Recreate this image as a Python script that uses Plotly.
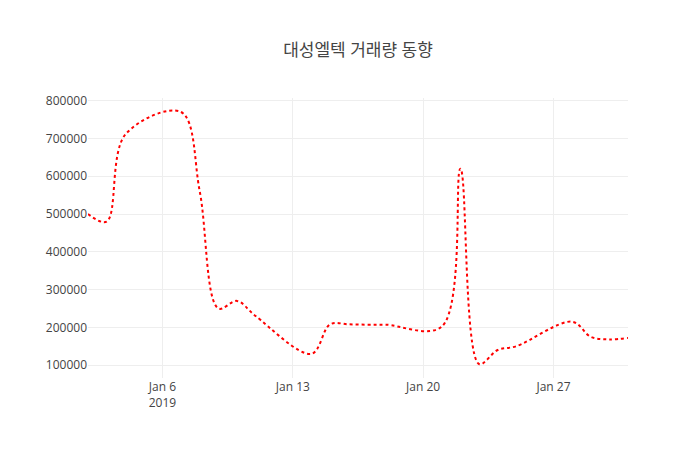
import plotly.graph_objects as go

dates = ["2019-01-02", "2019-01-03", "2019-01-04", "2019-01-07", "2019-01-08",
         "2019-01-09", "2019-01-10", "2019-01-11", "2019-01-14", "2019-01-15",
         "2019-01-16", "2019-01-17", "2019-01-18", "2019-01-21", "2019-01-22",
         "2019-01-23", "2019-01-24", "2019-01-25", "2019-01-28", "2019-01-29",
         "2019-01-30", "2019-01-31"]
volume = [500000, 480000, 710000, 770000, 560000,
          250000, 270000, 230000, 130000, 208000,
          208000, 207000, 207000, 202000, 620000,
          103000, 140000, 150000, 215000, 175000,
          168000, 172000]

fig = go.Figure(go.Scatter(
    x=dates, y=volume, mode="lines",
    line=dict(color="red", width=2, dash="dot", shape="spline"),
))

fig.update_layout(
    title=dict(text="대성엘텍 거래량 동향", x=0.5, xanchor="center", y=0.92,
               font=dict(size=17, color="#444")),
    width=700, height=450,
    paper_bgcolor="white", plot_bgcolor="white",
    font=dict(family="Open Sans, Noto Sans CJK KR", color="#444", size=12),
    margin=dict(l=80, r=80, t=90, b=80),
)
fig.update_xaxes(showgrid=True, gridcolor="#eee", zeroline=False, showline=False)
fig.update_yaxes(showgrid=True, gridcolor="#eee", zeroline=False, showline=False,
                 tickformat="d")

fig.write_html("out.html")
